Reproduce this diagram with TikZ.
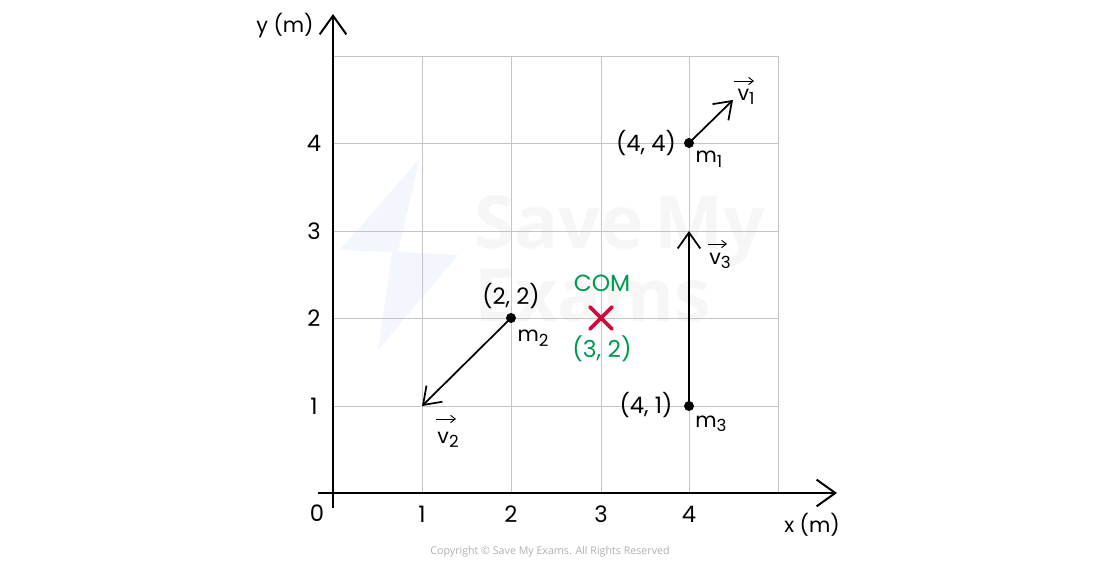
\documentclass[tikz,border=0pt]{standalone}
\usepackage{fontspec}
\usetikzlibrary{arrows.meta}
\setmainfont{Open Sans}
\newfontfamily\labfont{Poppins}
\definecolor{gridc}{HTML}{C4C4C4}
\definecolor{comgreen}{HTML}{009A4E}
\definecolor{comred}{HTML}{CF0A3C}
\definecolor{wmgrey}{HTML}{F6F6F6}
\definecolor{wmblue}{HTML}{F3F6FD}
\definecolor{copyc}{HTML}{B0B0B0}
\tikzset{
  gridline/.style={draw=gridc,line width=0.75pt},
  axisline/.style={draw=black,line width=1.8pt,-{Straight Barb[length=14pt,width=20pt,line width=1.5pt]}},
  veclong/.style={draw=black,line width=1.3pt,-{Straight Barb[length=12pt,width=17pt,line width=1.3pt]}},
  vecbar/.style={draw=black,line width=0.7pt,-{Straight Barb[length=3.5pt,width=5.5pt,line width=0.7pt]}},
  lab/.style={font=\labfont\fontsize{17}{20}\selectfont,inner sep=0pt,text=black},
  axlab/.style={font=\labfont\fontsize{15.5}{20}\selectfont,inner sep=0pt,text=black},
  sublab/.style={font=\labfont\fontsize{15.5}{18}\selectfont,inner sep=0pt,text=black},
  comlab/.style={font=\labfont\fontsize{17.5}{20}\selectfont,inner sep=0pt,text=comgreen},
  massdot/.style={circle,fill=black,inner sep=0pt,minimum size=7.5pt},
  wmark/.style={font=\fontsize{55}{60}\selectfont\bfseries,inner sep=0pt,text=wmgrey,anchor=west},
}
\newcommand{\subm}[1]{m\raisebox{-0.4ex}{\fontsize{12.5}{14}\selectfont #1}}
\newcommand{\subv}[1]{v\raisebox{-0.4ex}{\fontsize{12.5}{14}\selectfont #1}}
\newcommand{\cpair}[2]{(#1,\hspace{0.28em}#2)}
\begin{document}
\begin{tikzpicture}[x=0.75pt,y=-0.75pt]
\useasboundingbox (0,0) rectangle (1100,564);
% watermark
\fill[wmblue] (420,158) -- (340,250) -- (392,252) -- (378,350) -- (458,255) -- (398,252) -- cycle;
\node[wmark] (wm1) at (474,231) {Save\hspace{-0.12em} My};
\node[wmark] (wm2) at (474,296) {Exams};
% grid
\foreach \gx in {422,511,601,689,778} \draw[gridline] (\gx,56) -- (\gx,493);
\foreach \gy in {56,143,231,318,406} \draw[gridline] (333,\gy) -- (778,\gy);
% axes
\coordinate (ybot) at (333,508);
\coordinate (ytop) at (333,14);
\coordinate (xleft) at (318,493);
\coordinate (xright) at (837,493);
\draw[axisline] (ybot) -- (ytop);
\draw[axisline] (xleft) -- (xright);
% axis labels
\node[axlab] (ylabel) at (285,26) {y (m)};
\node[axlab] (xlabel) at (812,525) {x (m)};
\node[lab] (zero) at (317,513) {0};
\foreach \n/\gx/\t in {a/422/1,b/511/2,c/601/3,d/689/4} \node[lab] (xt\n) at (\gx,514) {\t};
\foreach \n/\gy/\t in {a/406/1,b/318/2,c/231/3,d/143/4} \node[lab] (yt\n) at (314,\gy) {\t};
% masses
\node[massdot] (m1) at (689,143) {};
\node[massdot] (m2) at (511,318) {};
\node[massdot] (m3) at (689,406) {};
\coordinate (v1end) at (733,100);
\coordinate (v2end) at (422,406);
\coordinate (v3end) at (689,231);
\draw[veclong] (m1.center) -- (v1end);
\draw[veclong] (m2.center) -- (v2end);
\draw[veclong] (m3.center) -- (v3end);
% point labels
\node[lab] (p1) at (646,143) {\cpair{4}{4}};
\node[lab] (p2) at (511,296) {\cpair{2}{2}};
\node[lab] (p3) at (646,405) {\cpair{4}{1}};
\node[sublab] (n1) at (709,159) {\subm{1}};
\node[sublab] (n2) at (533,338) {\subm{2}};
\node[sublab] (n3) at (711,424) {\subm{3}};
% velocity labels
\node[sublab] (l1) at (746,97) {\subv{1}};
\node[sublab] (l2) at (448,440) {\subv{2}};
\node[sublab] (l3) at (720,261) {\subv{3}};
\draw[vecbar] (734,81) -- (754,81);
\draw[vecbar] (436,419) -- (456,419);
\draw[vecbar] (708,244) -- (727,244);
% COM
\node[comlab] (com) at (602,283) {COM};
\node[comlab] (comp) at (602,349) {\cpair{3}{2}};
\draw[comred,line width=2.7pt,line cap=round] (590,307) -- (612,329) (612,307) -- (590,329);
% copyright
\node[font=\fontsize{8.0}{10}\selectfont,text=copyc,inner sep=0pt] (copy) at (550,552) {Copyright © Save My Exams. All Rights Reserved};
\end{tikzpicture}
\end{document}
